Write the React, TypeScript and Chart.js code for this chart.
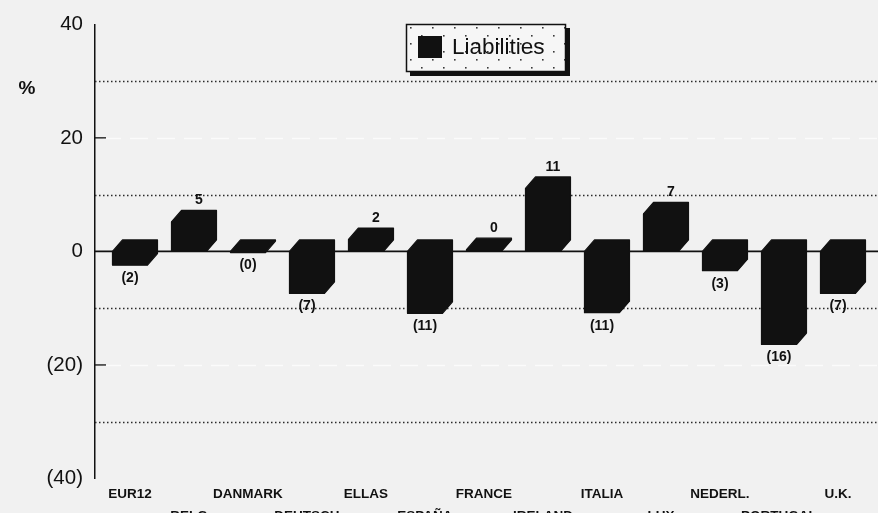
import React, { useEffect, useRef } from 'react';
import { Chart, registerables } from 'chart.js';

Chart.register(...registerables);

const categories = ['EUR12', 'BELG', 'DANMARK', 'DEUTSCH', 'ELLAS', 'ESPAÑA', 'FRANCE', 'IRELAND', 'ITALIA', 'LUX', 'NEDERL.', 'PORTUGAL', 'U.K.'];
const liabilities = [-2.4, 5.2, -0.2, -7.4, 2.1, -10.9, 0.3, 11.1, -10.8, 6.6, -3.4, -16.4, -7.4];
const seriesName = 'Liabilities';
const yTickValues = [40, 20, 0, -20, -40];
const dottedLevels = [30, 10, -10, -30];
const whiteLevels = [20, -20];
const unitLabel = '%';

const W = 878;
const H = 545;
const DX = 10;
const DY = 11.5;
const FONT = '"Liberation Sans", Arial, Helvetica, sans-serif';

function fmt(v: number): string {
  const r = Math.round(Math.abs(v));
  return v < 0 ? `(${r})` : `${r}`;
}

function makePattern(ctx: CanvasRenderingContext2D) {
  const c = document.createElement('canvas');
  c.width = 22;
  c.height = 16;
  const p = c.getContext('2d')!;
  p.fillStyle = '#f6f6f6';
  p.fillRect(0, 0, 22, 16);
  p.fillStyle = '#3a3a3a';
  p.fillRect(3, 3, 1.6, 1.6);
  p.fillRect(14, 11, 1.6, 1.6);
  return ctx.createPattern(c, 'repeat');
}

const decor = {
  id: 'decor',
  beforeDraw(chart: any) {
    const { ctx, width, height } = chart;
    ctx.save();
    ctx.fillStyle = '#f1f1f1';
    ctx.fillRect(0, 0, width, height);
    ctx.restore();
  },
  beforeDatasetsDraw(chart: any) {
    const { ctx, chartArea } = chart;
    const y = chart.scales.y;
    const x0 = chartArea.left;
    const x1 = chart.width;
    const hline = (a: number, b: number, py: number) => {
      ctx.beginPath();
      ctx.moveTo(a, py);
      ctx.lineTo(b, py);
      ctx.stroke();
    };
    ctx.save();
    ctx.strokeStyle = '#fbfbfb';
    ctx.lineWidth = 1.5;
    ctx.setLineDash([18, 9]);
    whiteLevels.forEach((v) => hline(x0 + 8, x1, Math.round(y.getPixelForValue(v)) + 0.5));
    ctx.strokeStyle = '#2a2a2a';
    ctx.lineWidth = 1.3;
    ctx.setLineDash([1.5, 2.5]);
    dottedLevels.forEach((v) => hline(x0, x1, Math.round(y.getPixelForValue(v)) + 0.5));
    ctx.setLineDash([]);
    ctx.strokeStyle = '#111';
    ctx.lineWidth = 1.6;
    hline(x0, x1, y.getPixelForValue(0));
    ctx.lineWidth = 1.3;
    whiteLevels.forEach((v) => hline(x0, x0 + 11, y.getPixelForValue(v)));
    ctx.restore();
  },
  afterDatasetsDraw(chart: any) {
    const { ctx } = chart;
    const meta = chart.getDatasetMeta(0);
    const values = chart.data.datasets[0].data as number[];
    ctx.save();
    meta.data.forEach((el: any, i: number) => {
      const { x, y, base, width } = el.getProps(['x', 'y', 'base', 'width'], true);
      const L = x - width / 2;
      const R = x + width / 2;
      const T = Math.min(y, base);
      const B = Math.max(y, base);
      ctx.beginPath();
      ctx.moveTo(L, B);
      ctx.lineTo(L, T);
      ctx.lineTo(L + DX, T - DY);
      ctx.lineTo(R + DX, T - DY);
      ctx.lineTo(R + DX, B - DY);
      ctx.lineTo(R, B);
      ctx.closePath();
      ctx.fillStyle = '#111';
      ctx.fill();
      ctx.lineJoin = 'round';
      ctx.lineWidth = 1.2;
      ctx.strokeStyle = '#111';
      ctx.stroke();

      const v = values[i];
      ctx.font = `bold 14px ${FONT}`;
      ctx.fillStyle = '#111';
      ctx.textAlign = 'center';
      ctx.textBaseline = 'middle';
      if (v >= 0) {
        ctx.fillText(fmt(v), x + 10, T - DY - 10);
      } else {
        ctx.fillText(fmt(v), x, B + 13);
      }
    });
    ctx.restore();
  },
  afterDraw(chart: any) {
    const { ctx } = chart;
    ctx.save();
    ctx.font = `bold 19px ${FONT}`;
    ctx.fillStyle = '#111';
    ctx.textAlign = 'center';
    ctx.textBaseline = 'middle';
    ctx.fillText(unitLabel, 27, 89);

    const bx = 406, by = 24, bw = 160, bh = 48;
    ctx.fillStyle = '#111';
    ctx.fillRect(bx + 4, by + 4, bw, bh);
    const pat = makePattern(ctx);
    ctx.fillStyle = pat || '#f6f6f6';
    ctx.fillRect(bx, by, bw, bh);
    ctx.strokeStyle = '#111';
    ctx.lineWidth = 1.5;
    ctx.strokeRect(bx + 0.5, by + 0.5, bw - 1, bh - 1);
    ctx.fillStyle = '#111';
    ctx.fillRect(418, 36, 24, 22);
    ctx.font = `22.5px ${FONT}`;
    ctx.textAlign = 'left';
    ctx.textBaseline = 'middle';
    ctx.fillText(chart.data.datasets[0].label, 452, 48);
    ctx.restore();
  },
};

export default function App() {
  const ref = useRef<HTMLCanvasElement | null>(null);

  useEffect(() => {
    document.body.style.margin = '0';
    document.body.style.background = '#f1f1f1';
    const canvas = ref.current!;
    const chart = new Chart(canvas, {
      type: 'bar',
      data: {
        labels: categories,
        datasets: [
          {
            label: seriesName,
            data: liabilities,
            backgroundColor: '#111',
            borderWidth: 0,
            barThickness: 35,
          },
        ],
      },
      options: {
        animation: false,
        responsive: false,
        devicePixelRatio: 1,
        layout: { padding: { top: 17.5, left: 0, right: 0, bottom: 0 } },
        plugins: {
          legend: { display: false },
          tooltip: { enabled: false },
        },
        scales: {
          x: {
            type: 'category',
            offset: true,
            grid: { display: false, drawTicks: false },
            border: { display: false },
            ticks: {
              autoSkip: false,
              maxRotation: 0,
              minRotation: 0,
              padding: 5.5,
              color: '#111',
              font: { family: FONT, size: 13.5, weight: 'bold', lineHeight: 1.59 },
              callback: (_v: any, i: number) => (i % 2 === 0 ? categories[i] : ['', categories[i]]),
            },
            afterFit: (s: any) => {
              s.height = H - 478.5;
            },
            afterBuildTicks: (s: any) => {
              s._startValue = -0.593;
              s._valueRange = (W - 95) / 59;
            },
          },
          y: {
            min: -40,
            max: 40,
            grid: { display: false, drawTicks: false },
            border: { display: true, color: '#111', width: 1.5 },
            afterBuildTicks: (s: any) => {
              s.ticks = yTickValues.map((v) => ({ value: v }));
            },
            ticks: {
              padding: 12,
              color: '#111',
              font: { family: FONT, size: 20.5 },
              callback: (v: any) => (Number(v) < 0 ? `(${-Number(v)})` : `${v}`),
            },
            afterFit: (s: any) => {
              s.width = 95;
            },
          },
        },
      },
      plugins: [decor],
    });
    return () => chart.destroy();
  }, []);

  return (
    <div style={{ width: W, height: 513, overflow: 'hidden', background: '#f1f1f1' }}>
      <canvas ref={ref} width={W} height={H} style={{ width: W, height: H, display: 'block' }} />
    </div>
  );
}
